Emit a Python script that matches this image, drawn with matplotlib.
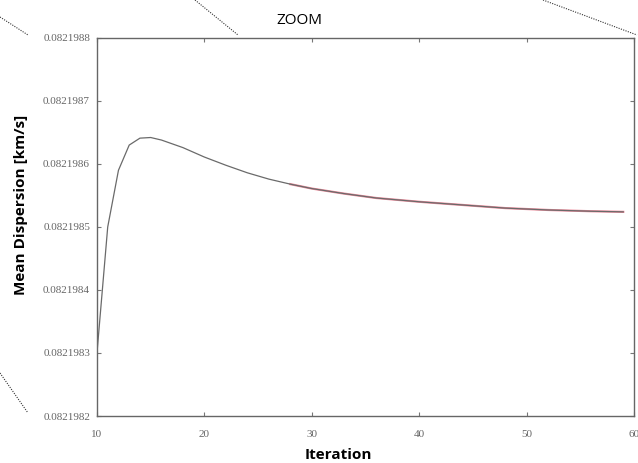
import matplotlib.pyplot as plt
from matplotlib.lines import Line2D

# --- data
iteration = [10, 11, 12, 13, 14, 15, 16, 18, 20, 22, 24, 26, 28, 30,
             33, 36, 40, 44, 48, 52, 56, 59]
dispersion = [0.08219830, 0.08219850, 0.08219859, 0.082198630, 0.082198641,
              0.082198642, 0.082198638, 0.082198626, 0.082198611, 0.082198598,
              0.082198586, 0.082198576, 0.082198568, 0.082198561, 0.082198553,
              0.082198546, 0.082198540, 0.082198535, 0.082198530, 0.082198527,
              0.082198525, 0.082198524]

# red run sits just under the grey one from ~iteration 28 on
red_start = 28

x_ticks = [10, 20, 30, 40, 50, 60]
y_ticks = [0.0821982, 0.0821983, 0.0821984, 0.0821985, 0.0821986, 0.0821987, 0.0821988]
y_tick_labels = ["0.0821982", "0.0821983", "0.0821984", "0.0821985",
                 "0.0821986", "0.0821987", "0.0821988"]

fig = plt.figure(figsize=(6.38, 4.63), dpi=100)
ax = fig.add_axes([0.152, 0.1015, 0.8417, 0.8165])

red_x = [it for it in iteration if it >= red_start]
red_y = [d for it, d in zip(iteration, dispersion) if it >= red_start]
ax.plot(red_x, red_y, color="#ec8a9a", lw=1.6, zorder=2)
ax.plot(iteration, dispersion, color="#6a6a6a", lw=0.9, zorder=3)

ax.set_xlim(10, 60)
ax.set_ylim(0.0821982, 0.0821988)
ax.set_xticks(x_ticks)
ax.set_yticks(y_ticks)
ax.set_yticklabels(y_tick_labels)

for lab in ax.get_xticklabels() + ax.get_yticklabels():
    lab.set_family("Liberation Serif")
    lab.set_fontsize(8)
    lab.set_color("#666666")

ax.tick_params(direction="in", length=3, width=0.8, color="#777777",
               top=True, right=True)
ax.tick_params(axis="y", pad=5)
ax.tick_params(axis="x", pad=10)
for sp in ax.spines.values():
    sp.set_color("#666666")
    sp.set_linewidth(1.0)

ax.set_xlabel("Iteration", family="Open Sans", fontweight="bold", fontsize=11, va="center")
ax.xaxis.set_label_coords(0.449, -0.103)
ax.set_ylabel("Mean Dispersion [km/s]", family="Open Sans", fontweight="bold",
              fontsize=11, va="center")
ax.yaxis.set_label_coords(-0.1415, 0.558)
fig.text(0.470, 0.955, "ZOOM", family="Open Sans", fontsize=11,
         ha="center", va="center")

# dotted zoom guide lines (pixel coords of the 638x463 image)
guides = [((0, 17), (28, 35)), ((195, 0), (238, 35)),
          ((543, 0), (637, 35)), ((0, 373), (28, 413))]
for (x0, y0), (x1, y1) in guides:
    fig.add_artist(Line2D([x0 / 638, x1 / 638], [1 - y0 / 463, 1 - y1 / 463],
                          transform=fig.transFigure, color="#333333",
                          lw=0.8, ls=(0, (1, 1.2))))

fig.savefig("out.png", dpi=100)
